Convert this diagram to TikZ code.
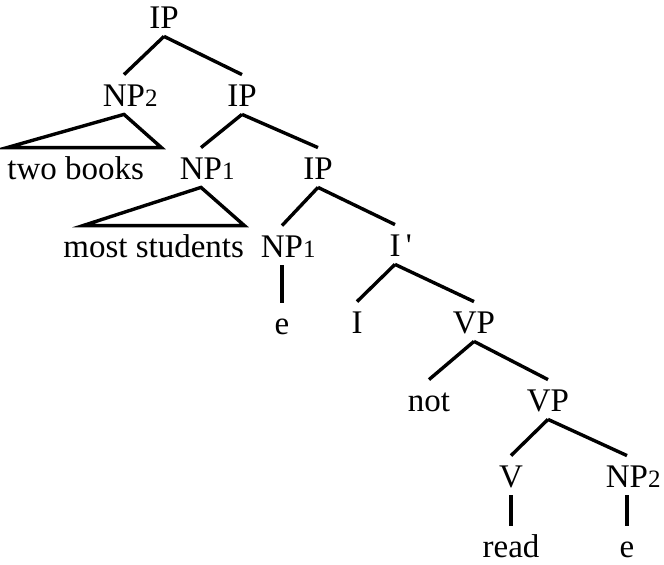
\documentclass[tikz,border=0pt]{standalone}
\usepackage{fontspec}
\setmainfont{Liberation Serif}
\usetikzlibrary{calc}
\newcommand{\subn}[1]{\rlap{\fontsize{12.5}{12.5}\selectfont #1}}
\begin{document}
\begin{tikzpicture}[x=0.5pt,y=-0.5pt,
  lab/.style={inner xsep=0pt,inner ysep=0pt,text height=16pt,text depth=3.5pt,anchor=base,font=\fontsize{16.5}{20}\selectfont},
  leaf/.style={lab,text depth=0pt},
  br/.style={line width=1.7pt}]
\useasboundingbox (0,0) rectangle (664,565);
\node[lab] (ip0) at (164,29) {IP};
\node[lab] (np2a) at (124,107) {NP\subn{2}};
\node[lab] (ip1) at (242,107) {IP};
\node[lab,anchor=base west] (tb) at (7,180) {two books};
\node[lab] (np1a) at (201,180) {NP\subn{1}};
\node[lab] (ip2) at (318,180) {IP};
\node[lab,anchor=base west] (ms) at (63,258) {most students};
\node[lab] (np1b) at (282,258) {NP\subn{1}};
\node[lab] (e1) at (282,335) {e};
\node[lab] (ibar) at (395,257) {I\rlap{\,\textquotesingle}};
\node[lab] (i) at (357,334) {I};
\node[lab] (vp1) at (474,334) {VP};
\node[lab] (not) at (429,412) {not};
\node[lab] (vp2) at (548,412) {VP};
\node[lab] (v) at (511,488) {V};
\node[lab] (np2b) at (627,488) {NP\subn{2}};
\node[leaf] (read) at (511,558) {read};
\node[leaf] (e2) at (627,558) {e};
% branches
\draw[br] (ip0.south) -- (np2a.north);
\draw[br] (ip0.south) -- (ip1.north);
\draw[br] (ip1.south) -- (np1a.north);
\draw[br] (ip1.south) -- (ip2.north);
\draw[br] (ip2.south) -- (np1b.north);
\draw[br] (ip2.south) -- (ibar.north);
\draw[br] (np1b.south) -- (e1.north);
\draw[br] (ibar.south) -- (i.north);
\draw[br] (ibar.south) -- (vp1.north);
\draw[br] (vp1.south) -- (not.north);
\draw[br] (vp1.south) -- (vp2.north);
\draw[br] (vp2.south) -- (v.north);
\draw[br] (vp2.south) -- (np2b.north);
\draw[br] (v.south) -- (read.north);
\draw[br] (np2b.south) -- (e2.north);
% triangles
\coordinate (tbl) at (tb.north west);
\coordinate (tbr) at ($(tb.north east)+(17,0)$);
\draw[br,line join=miter] (np2a.south) -- (tbr) -- (tbl) -- cycle;
\coordinate (msl) at ($(ms.north west)+(20,0)$);
\coordinate (msr) at ($(ms.north east)+(0,0)$);
\draw[br,line join=miter] (np1a.south) -- (msr) -- (msl) -- cycle;
\end{tikzpicture}
\end{document}
